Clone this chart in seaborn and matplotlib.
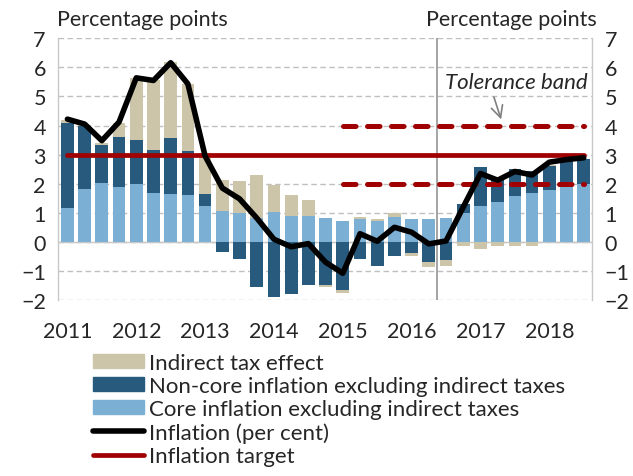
import numpy as np
import pandas as pd
import matplotlib.pyplot as plt
import seaborn as sns
from matplotlib.patches import Patch
from matplotlib.lines import Line2D

# quarterly data, 2011Q1 - 2018Q3
years = ['2011', '2012', '2013', '2014', '2015', '2016', '2017', '2018']
quarters = [f'{y}Q{q}' for y in years for q in range(1, 5)][:31]

core = [1.16, 1.81, 2.04, 1.87, 1.99, 1.68, 1.64, 1.61, 1.22, 1.07,
        1.00, 0.81, 1.02, 0.89, 0.89, 0.83, 0.70, 0.80, 0.72, 0.86,
        0.78, 0.80, 0.83, 1.00, 1.23, 1.37, 1.57, 1.68, 1.78, 1.90, 2.00]
noncore = [2.93, 2.16, 1.30, 1.75, 1.51, 1.48, 1.94, 1.53, 0.42, -0.34,
           -0.60, -1.57, -1.90, -1.79, -1.49, -1.49, -1.66, -0.60, -0.82, -0.47,
           -0.39, -0.71, -0.63, 0.29, 1.35, 0.78, 0.92, 0.75, 0.82, 0.90, 0.86]
tax = [0.11, 0.04, 0.06, 0.47, 2.14, 2.39, 2.62, 2.29, 1.41, 1.06,
       1.09, 1.50, 0.93, 0.73, 0.54, -0.05, -0.09, 0.05, 0.08, 0.14,
       -0.09, -0.15, -0.19, -0.14, -0.25, -0.16, -0.14, -0.16, 0.05, 0.0, 0.0]
inflation = [4.22, 4.05, 3.48, 4.12, 5.64, 5.55, 6.16, 5.43, 2.95, 1.85,
             1.48, 0.82, 0.09, -0.17, -0.06, -0.70, -1.08, 0.28, 0.02, 0.50,
             0.33, -0.07, 0.03, 1.20, 2.35, 2.12, 2.42, 2.30, 2.74, 2.83, 2.89]

target = 3.0
band_low, band_high = 2.0, 4.0
band_start = '2015Q1'
forecast_start = '2016Q3'

C_TAX = '#ccc5a9'
C_NONCORE = '#285a7d'
C_CORE = '#7bafd4'
C_RED = '#a00000'

sns.set_theme(style='white')
plt.rcParams['font.family'] = ['Lato', 'DejaVu Sans']

df = pd.DataFrame({'quarter': quarters, 'core': core, 'noncore': noncore,
                   'tax': tax, 'inflation': inflation})
df['pos'] = np.arange(len(df))
df['target'] = target

# stacked levels (positive parts on top of core, negative parts below zero)
df['lvl_nc'] = df['core'] + df['noncore'].clip(lower=0)
df['lvl_tax'] = df['lvl_nc'] + df['tax'].clip(lower=0)
df['neg_nc'] = df['noncore'].clip(upper=0)
df['neg_tax'] = df['neg_nc'] + df['tax'].clip(upper=0)

fig = plt.figure(figsize=(6.33, 4.77), dpi=100)
ax = fig.add_axes([58.3 / 633, 1 - 301 / 477, (592 - 58.3) / 633, (301 - 39.3) / 477])

bw = 0.74
for col, c in [('lvl_tax', C_TAX), ('neg_tax', C_TAX), ('lvl_nc', C_NONCORE),
               ('neg_nc', C_NONCORE), ('core', C_CORE)]:
    sns.barplot(data=df, x='pos', y=col, color=c, saturation=1, width=bw,
                errorbar=None, linewidth=0, ax=ax, zorder=2)

sns.lineplot(data=df, x='pos', y='inflation', color='black', lw=4.0,
             solid_joinstyle='round', solid_capstyle='round', ax=ax, zorder=5)
sns.lineplot(data=df, x='pos', y='target', color=C_RED, lw=3.4,
             solid_capstyle='round', ax=ax, zorder=4)

band = df[df['pos'] >= quarters.index(band_start)].copy()
band['low'] = band_low
band['high'] = band_high
for col in ['low', 'high']:
    sns.lineplot(data=band, x='pos', y=col, color=C_RED, lw=3.6,
                 ls=(0, (2.5, 2.3)), dash_capstyle='round', ax=ax, zorder=4)

ax.axvline(quarters.index(forecast_start) - 0.5, color='#8c8c8c', lw=1.1, zorder=3)
ax.axhline(0, color='#c8c8c8', lw=1, zorder=1)

ax.set_ylim(-2, 7)
ax.set_xlim(-0.53, 30.48)
ax.set_yticks(range(-2, 8))
ax.set_xticks(range(0, 29, 4))
ax.set_xticklabels(years)
ax.yaxis.grid(True, ls=(0, (4, 2.5)), color='#bfbfbf', lw=1)
ax.set_axisbelow(True)
ax.set_xlabel('')
ax.set_ylabel('')
for s in ['top', 'bottom']:
    ax.spines[s].set_visible(False)
for s in ['left', 'right']:
    ax.spines[s].set_color('#c8c8c8')
    ax.spines[s].set_linewidth(1)
ax.tick_params(axis='y', length=0, pad=9, labelsize=15.5, labelleft=True, labelright=True)
ax.tick_params(axis='x', length=0, pad=15, labelsize=15.5)

fig.text(57 / 633, 1 - 20 / 477, 'Percentage points', fontsize=15.5, va='center', ha='left')
fig.text(597 / 633, 1 - 20 / 477, 'Percentage points', fontsize=15.5, va='center', ha='right')

ax.text(26.1, 5.49, 'Tolerance band', fontsize=16, style='italic', ha='center', va='center')
ax.annotate('', xy=(25.25, 4.12), xytext=(24.73, 5.07),
            arrowprops=dict(arrowstyle='->,head_length=0.7,head_width=0.35',
                            color='#808080', lw=1.2))

handles = [Patch(color=C_TAX), Patch(color=C_NONCORE), Patch(color=C_CORE),
           Line2D([], [], color='black', lw=4.0, solid_capstyle='round'),
           Line2D([], [], color=C_RED, lw=3.4, solid_capstyle='round')]
labels = ['Indirect tax effect', 'Non-core inflation excluding indirect taxes',
          'Core inflation excluding indirect taxes', 'Inflation (per cent)',
          'Inflation target']
fig.legend(handles, labels, loc='upper left', bbox_to_anchor=(93 / 633, 1 - 354 / 477),
           frameon=False, fontsize=16, handlelength=2.3, handleheight=0.6,
           handletextpad=0.23, labelspacing=0.14, borderpad=0, borderaxespad=0)

fig.savefig('out.png', dpi=100)
